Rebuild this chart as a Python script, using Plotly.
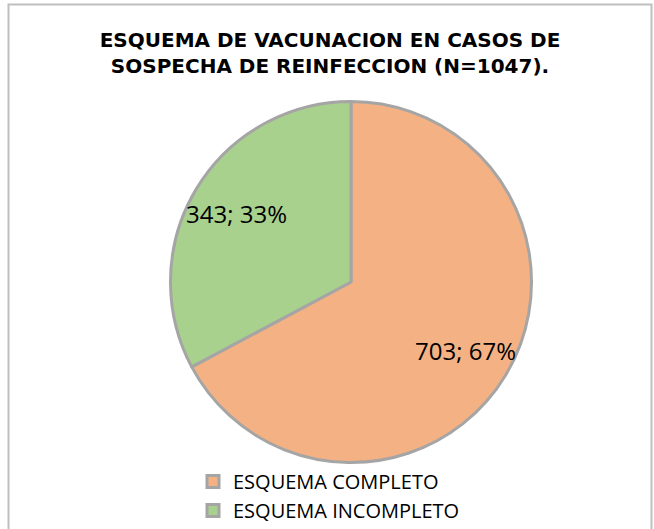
import math
import plotly.graph_objects as go

# Vaccination scheme among suspected reinfection cases
categories = ["ESQUEMA COMPLETO", "ESQUEMA INCOMPLETO"]
cases = [703, 343]
slice_colors = ["#F4B183", "#A9D18E"]
title_lines = ["ESQUEMA DE VACUNACION EN CASOS DE", "SOSPECHA DE REINFECCION (N=1047)."]

W, H = 654, 529

# pie geometry in pixels (figure has zero margins, so paper == pixels / size)
pie_cx, pie_cy, pie_r = 351.0, 282.0, 180.5
label_r = 134.0

fig = go.Figure(
    go.Pie(
        labels=categories,
        values=cases,
        sort=False,
        direction="clockwise",
        rotation=0,
        marker=dict(colors=slice_colors, line=dict(color="#A5A5A5", width=3)),
        textinfo="none",
        textposition="none",
        domain=dict(
            x=[(pie_cx - pie_r) / W, (pie_cx + pie_r) / W],
            y=[(H - pie_cy - pie_r) / H, (H - pie_cy + pie_r) / H],
        ),
        hoverinfo="label+value+percent",
    )
)

# data labels "value; percent" placed on each slice's bisector
total = sum(cases)
start = 0.0
annotations = []
for v in cases:
    frac = v / total
    mid = (start + frac / 2) * 2 * math.pi  # clockwise from 12 o'clock
    start += frac
    px = pie_cx + label_r * math.sin(mid)
    py = pie_cy - label_r * math.cos(mid)
    annotations.append(
        dict(
            x=px / W,
            y=1 - py / H,
            xref="paper",
            yref="paper",
            text=f"{v}; {frac:.0%}",
            showarrow=False,
            xanchor="center",
            yanchor="middle",
            font=dict(family="Open Sans", size=24, color="#000000"),
        )
    )

fig.update_layout(
    width=W,
    height=H,
    margin=dict(l=0, r=0, t=0, b=0, autoexpand=False),
    paper_bgcolor="white",
    plot_bgcolor="white",
    title=dict(
        text="<br>".join(title_lines),
        font=dict(family="DejaVu Sans", size=20, color="#000000", weight="bold"),
        x=330 / W,
        xanchor="center",
        xref="container",
        y=1 - 47 / H,
        yanchor="top",
        yref="container",
    ),
    annotations=annotations,
    showlegend=True,
    legend=dict(
        x=193 / W,
        xanchor="left",
        y=1 - 462 / H,
        yanchor="top",
        font=dict(family="Open Sans", size=20, color="#000000"),
        bgcolor="rgba(0,0,0,0)",
        traceorder="normal",
    ),
    shapes=[
        dict(
            type="rect",
            xref="paper",
            yref="paper",
            x0=8.5 / W,
            x1=651.5 / W,
            y0=-0.05,
            y1=1 - 4.5 / H,
            line=dict(color="#BFBFBF", width=2),
            fillcolor="rgba(0,0,0,0)",
            layer="below",
        )
    ],
)

fig.write_html("out.html")
